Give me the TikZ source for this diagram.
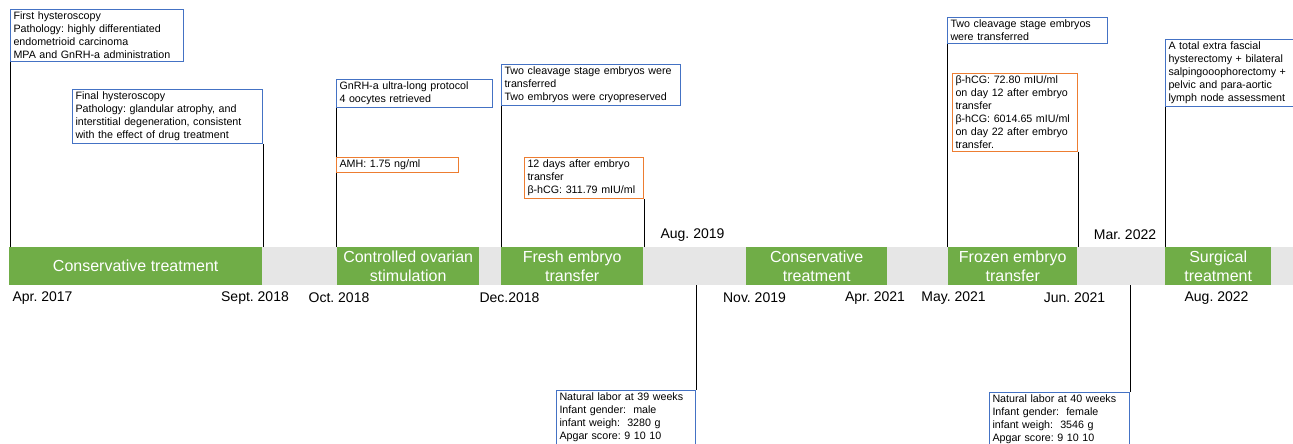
\documentclass[tikz,border=0pt]{standalone}
\usepackage{fontspec}
\setmainfont{Liberation Sans}
\frenchspacing
\definecolor{bandgreen}{HTML}{70AD47}
\definecolor{bandgray}{HTML}{E6E6E6}
\definecolor{boxblue}{HTML}{4472C4}
\definecolor{boxorange}{HTML}{ED7D31}
\tikzset{
  infobox/.style={draw, fill=white, line width=1pt, anchor=north west, align=left,
    inner xsep=3pt, inner ysep=2.5pt, font=\fontsize{10.7}{13}\selectfont},
  bluebox/.style={infobox, draw=boxblue},
  orangebox/.style={infobox, draw=boxorange},
  phase/.style={fill=bandgreen, text=white, anchor=north west, minimum height=38pt,
    inner sep=0pt, align=center, font=\fontsize{16}{19}\selectfont},
  datelabel/.style={font=\fontsize{14}{16}\selectfont, inner sep=0pt},
  link/.style={draw=black, line width=0.9pt}
}
\begin{document}
\begin{tikzpicture}[x=1pt,y={(0pt,-1pt)}]
\useasboundingbox[fill=white] (0,0) rectangle (1293,444);
% band
\node[fill=bandgray, anchor=north west, minimum width=1284pt, minimum height=38pt, inner sep=0pt] (band) at (9,247) {};
\node[phase, minimum width=253pt] (g1) at (9,247) {Conservative treatment};
\node[phase, minimum width=142pt] (g2) at (337,247) {Controlled ovarian\\stimulation};
\node[phase, minimum width=142pt] (g3) at (501,247) {Fresh embryo\\transfer};
\node[phase, minimum width=141pt] (g4) at (746,247) {Conservative\\treatment};
\node[phase, minimum width=129pt] (g5) at (948,247) {Frozen embryo\\transfer};
\node[phase, minimum width=106pt] (g6) at (1165,247) {Surgical\\treatment};
% boxes
\node[bluebox, text width=167pt] (b1) at (10,9) {First hysteroscopy\\Pathology: highly differentiated\\endometrioid carcinoma\\MPA and GnRH-a administration};
\node[bluebox, text width=184pt] (b2) at (72,89) {Final hysteroscopy\\Pathology: glandular atrophy, and\\interstitial degeneration, consistent\\with the effect of drug treatment};
\node[bluebox, text width=150pt] (b3) at (336,79) {GnRH-a ultra-long protocol\\4 oocytes retrieved};
\node[orangebox, text width=116pt] (b4) at (336,157) {AMH: 1.75 ng/ml};
\node[bluebox, text width=173pt] (b5) at (501,64) {Two cleavage stage embryos were\\transferred\\Two embryos were cryopreserved};
\node[orangebox, text width=113pt] (b6) at (524,157) {12 days after embryo\\transfer\\β-hCG: 311.79 mIU/ml};
\node[bluebox, text width=133pt] (b7) at (556,390) {Natural labor at 39 weeks\\Infant gender:~ male\\infant weigh:~ 3280 g\\Apgar score: 9 10 10};
\node[bluebox, text width=154pt] (b8) at (947,17) {Two cleavage stage embryos\\were transferred};
\node[orangebox, text width=119pt] (b9) at (952,73) {β-hCG: 72.80 mIU/ml\\on day 12 after embryo\\transfer\\β-hCG: 6014.65 mIU/ml\\on day 22 after embryo\\transfer.};
\node[bluebox, text width=129pt] (b10) at (1165,39) {A total extra fascial\\hysterectomy + bilateral\\salpingooophorectomy +\\pelvic and para-aortic\\lymph node assessment};
\node[bluebox, text width=134pt] (b11) at (989,392) {Natural labor at 40 weeks\\Infant gender:~ female\\infant weigh:~ 3546 g\\Apgar score: 9 10 10};
% connectors
\draw[link] (b1.south west) -- (b1.south west |- band.north);
\draw[link] (b2.south east) -- (b2.south east |- band.north);
\draw[link] (b3.south west) -- (b4.north west);
\draw[link] (b4.south west) -- (b4.south west |- band.north);
\draw[link] (b5.south west) -- (b5.south west |- band.north);
\draw[link] (b6.south east) -- (b6.south east |- band.north);
\draw[link] (band.south -| b7.north east) -- (b7.north east);
\draw[link] (b8.south west) -- (b8.south west |- band.north);
\draw[link] (b9.south east) -- (b9.south east |- band.north);
\draw[link] (band.south -| b11.north east) -- (b11.north east);
\draw[link] (b10.south west) -- (b10.south west |- band.north);
% dates
\node[datelabel] (d1) at (42.5,298) {Apr. 2017};
\node[datelabel] (d2) at (255,298) {Sept. 2018};
\node[datelabel] (d3) at (339,298) {Oct. 2018};
\node[datelabel] (d4) at (509.5,298) {Dec.2018};
\node[datelabel] (d5) at (692.5,235) {Aug. 2019};
\node[datelabel] (d6) at (754.5,298) {Nov. 2019};
\node[datelabel] (d7) at (875,298) {Apr. 2021};
\node[datelabel] (d8) at (953.5,298) {May. 2021};
\node[datelabel] (d9) at (1074.5,298) {Jun. 2021};
\node[datelabel] (d10) at (1125,235) {Mar. 2022};
\node[datelabel] (d11) at (1216.5,298) {Aug. 2022};
\end{tikzpicture}
\end{document}
